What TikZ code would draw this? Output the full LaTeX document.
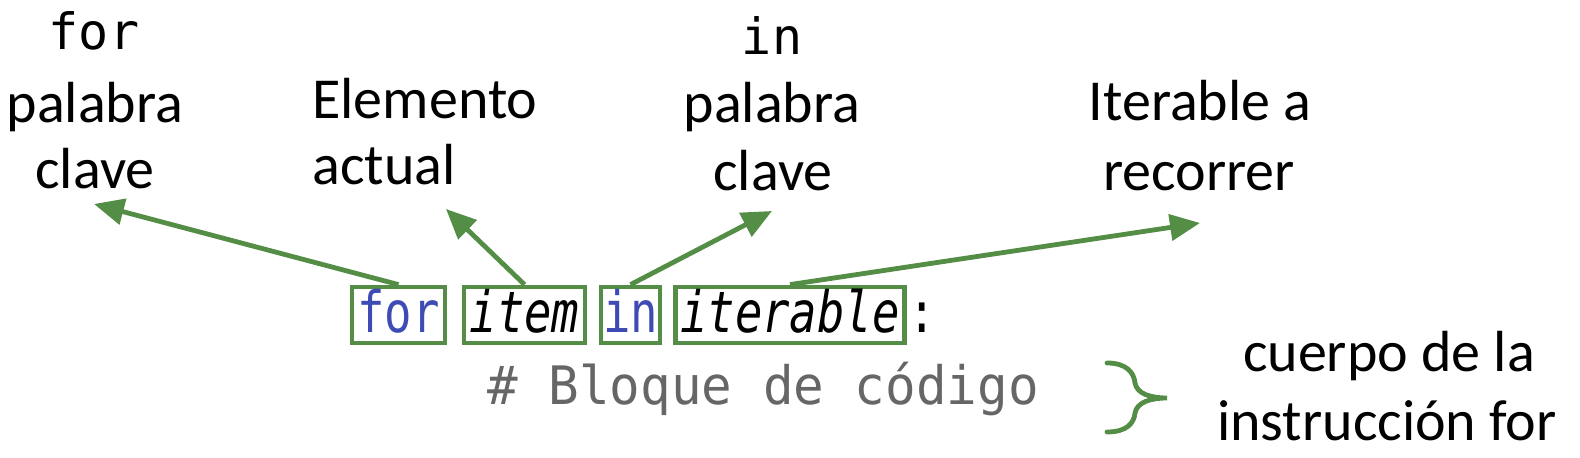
\documentclass[tikz,border=0pt]{standalone}
\usepackage{fontspec}
\setmainfont{Carlito}
\newfontfamily\monofont{DejaVu Sans Mono}
\newfontfamily\codefont[FakeStretch=0.8]{DejaVu Sans Mono}
\newfontfamily\cmtfont[FakeStretch=0.96]{DejaVu Sans Mono}
\usetikzlibrary{arrows.meta}
\definecolor{grn}{RGB}{84,142,70}
\definecolor{kw}{RGB}{63,75,180}
\definecolor{cmt}{RGB}{102,102,102}
\begin{document}
\begin{tikzpicture}[x=0.5pt,y=-0.5pt,
  lbl/.style={font=\fontsize{29pt}{34pt}\selectfont, inner sep=0pt, anchor=base},
  kwlbl/.style={font=\monofont\fontsize{25pt}{30pt}\selectfont, inner sep=0pt, anchor=base},
  codebox/.style={draw=grn, line width=2.4pt, inner xsep=0pt, inner ysep=0pt,
    text height=23pt, text depth=5pt, anchor=base,
    font=\codefont\fontsize{28.5pt}{32pt}\selectfont},
  arr/.style={draw=grn, line width=2.4pt, -{Triangle[length=15pt,width=13pt]}},
  brace/.style={draw=grn, line width=2.4pt, line cap=round}]
\useasboundingbox (0,0) rectangle (1580,458);

% code line
\node[codebox, minimum width=46.5pt] (bfor) at (398.5,333) {\color{kw}for};
\node[codebox, minimum width=60.5pt] (bitem) at (524.5,333) {\itshape item};
\node[codebox, minimum width=29.5pt] (bin) at (630.5,333) {\color{kw}in};
\node[codebox, minimum width=114.5pt] (biter) at (790,333) {\itshape iterable};
\node[font=\codefont\fontsize{28.5pt}{32pt}\selectfont, anchor=base west, inner sep=0pt] (colon) at (908,333) {:};
\node[font=\cmtfont\fontsize{26.5pt}{30pt}\selectfont, text=cmt, anchor=base west, inner sep=0pt] (comment) at (487,405) {\# Bloque de código};

% labels
\node[kwlbl] (forkw) at (94,50) {for};
\node[lbl] (forl1) at (95,123) {palabra};
\node[lbl] (forl2) at (95,189) {clave};
\node[lbl, anchor=base west] (eleml1) at (312,119) {Elemento};
\node[lbl, anchor=base west] (eleml2) at (312,185) {actual};
\node[kwlbl] (inkw) at (772,55) {in};
\node[lbl] (inl1) at (772,123) {palabra};
\node[lbl] (inl2) at (773,191) {clave};
\node[lbl] (iterl1) at (1200,121) {Iterable a};
\node[lbl] (iterl2) at (1199,191) {recorrer};
\node[lbl] (bodyl1) at (1389,372) {cuerpo de la};
\node[lbl] (bodyl2) at (1387,441) {instrucción for};

% arrow tips
\coordinate (tfor) at (94,204);
\coordinate (titem) at (446,209);
\coordinate (tin) at (772,211);
\coordinate (titer) at (1200,223);

\draw[arr] (bfor.north) -- (tfor);
\draw[arr] (bitem.north) -- (titem);
\draw[arr] (bin.north) -- (tin);
\draw[arr] (biter.north) -- (titer);

% brace
\draw[brace] (1107,363) .. controls (1127,363) and (1134,373) .. (1135,383)
  .. controls (1137,394) and (1151,398) .. (1167,398)
  .. controls (1151,398) and (1137,402) .. (1135,413)
  .. controls (1134,423) and (1127,432) .. (1107,432);
\end{tikzpicture}
\end{document}
